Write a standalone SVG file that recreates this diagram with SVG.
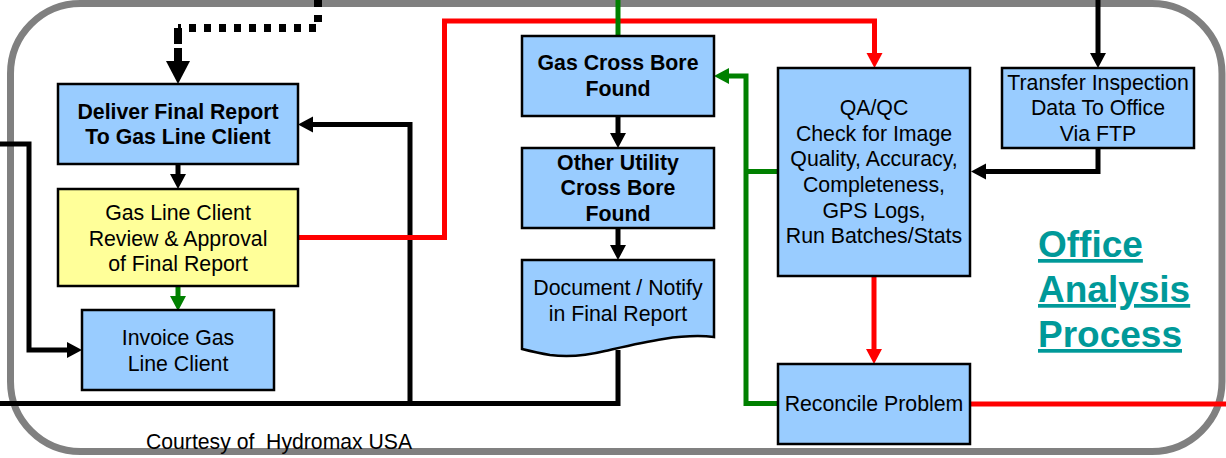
<svg xmlns="http://www.w3.org/2000/svg" width="1226" height="458" viewBox="0 0 1226 458">
<style>
.box{fill:#99CCFF;stroke:#000;stroke-width:2.5}
.yel{fill:#FFFF99;stroke:#000;stroke-width:2.5}
.t{font-family:"Liberation Sans",Arial,sans-serif;font-size:21.3px;fill:#000;text-anchor:middle}
.b{font-weight:bold}
.k{fill:none;stroke:#000;stroke-width:5}
.r{fill:none;stroke:#FF0000;stroke-width:5}
.g{fill:none;stroke:#008000;stroke-width:5}
.title{font-family:"Liberation Sans",Arial,sans-serif;font-size:37px;font-weight:bold;fill:#009999;text-decoration:underline}
</style>
<defs>
<marker id="ak" markerUnits="userSpaceOnUse" markerWidth="16" markerHeight="16" refX="0" refY="8" orient="auto" overflow="visible"><path d="M0,0 L15,8 L0,16 Z" fill="#000"/></marker>
<marker id="ar" markerUnits="userSpaceOnUse" markerWidth="16" markerHeight="16" refX="0" refY="8" orient="auto" overflow="visible"><path d="M0,0 L15,8 L0,16 Z" fill="#FF0000"/></marker>
<marker id="ag" markerUnits="userSpaceOnUse" markerWidth="16" markerHeight="16" refX="0" refY="8" orient="auto" overflow="visible"><path d="M0,0 L15,8 L0,16 Z" fill="#008000"/></marker>
<marker id="akb" markerUnits="userSpaceOnUse" markerWidth="24" markerHeight="24" refX="0" refY="12" orient="auto" overflow="visible"><path d="M0,0 L23,12 L0,24 Z" fill="#000"/></marker>
</defs>
<rect width="1226" height="458" fill="#fff"/>
<rect id="frame" x="10.5" y="3.5" width="1211.5" height="448" rx="70" ry="70" fill="none" stroke="#808080" stroke-width="7"/>

<g id="connectors">
<path d="M318,0 V28 H178" fill="none" stroke="#000" stroke-width="8" stroke-dasharray="7 8"/>
<path d="M178,28 V61" fill="none" stroke="#000" stroke-width="8" stroke-dasharray="16 4" marker-end="url(#akb)"/>
<path class="k" d="M178,164 V174" marker-end="url(#ak)"/>
<path class="g" d="M178,286 V296" marker-end="url(#ag)"/>
<path class="k" d="M0,144 H29 V350 H67" marker-end="url(#ak)"/>
<path class="k" d="M0,403.5 H618 V350"/>
<path class="k" d="M410,403.5 V124.5 H313" marker-end="url(#ak)"/>
<path class="r" d="M298,237.5 H444.5 V21 H874.5 V53" marker-end="url(#ar)"/>
<path class="g" d="M618,0 V36"/>
<path class="k" d="M618,116 V133" marker-end="url(#ak)"/>
<path class="k" d="M618,228 V245" marker-end="url(#ak)"/>
<path class="g" d="M778,403.5 H746 V76 H729" marker-end="url(#ag)"/>
<path class="g" d="M778,171.5 H746"/>
<path class="r" d="M874,276 V349" marker-end="url(#ar)"/>
<path class="r" d="M970,404 H1226"/>
<path class="k" d="M1098,0 V53" marker-end="url(#ak)"/>
<path class="k" d="M1098,148 V171.5 H986" marker-end="url(#ak)"/>
</g>

<g id="deliver">
<rect class="box" x="58" y="84" width="240" height="80"/>
<text class="t b" x="178" y="118.5">Deliver Final Report</text>
<text class="t b" x="178" y="144">To Gas Line Client</text>
</g>
<g id="review">
<rect class="yel" x="58" y="189" width="240" height="97"/>
<text class="t" x="178" y="220">Gas Line Client</text>
<text class="t" x="178" y="245.5">Review &amp; Approval</text>
<text class="t" x="178" y="271">of Final Report</text>
</g>
<g id="invoice">
<rect class="box" x="82" y="310" width="192" height="80"/>
<text class="t" x="178" y="345">Invoice Gas</text>
<text class="t" x="178" y="370.5">Line Client</text>
</g>
<g id="gascross">
<rect class="box" x="522" y="36" width="192" height="80"/>
<text class="t b" x="618" y="70">Gas Cross Bore</text>
<text class="t b" x="618" y="96">Found</text>
</g>
<g id="otherutility">
<rect class="box" x="522" y="148" width="192" height="80"/>
<text class="t b" x="618" y="169.5">Other Utility</text>
<text class="t b" x="618" y="195">Cross Bore</text>
<text class="t b" x="618" y="220.5">Found</text>
</g>
<g id="document">
<path class="box" d="M522,260 H714 V337 C680,333 640,343 605,351 C585,356 565,357 550,355 C538,353 530,351 522,349 Z"/>
<text class="t" x="618" y="295">Document / Notify</text>
<text class="t" x="618" y="320.5">in Final Report</text>
</g>
<g id="qaqc">
<rect class="box" x="778" y="68" width="192" height="208"/>
<text class="t" x="874" y="115">QA/QC</text>
<text class="t" x="874" y="140.5">Check for Image</text>
<text class="t" x="874" y="166">Quality, Accuracy,</text>
<text class="t" x="874" y="192">Completeness,</text>
<text class="t" x="874" y="217.5">GPS Logs,</text>
<text class="t" x="874" y="243">Run Batches/Stats</text>
</g>
<g id="transfer">
<rect class="box" x="1002" y="68" width="192" height="80"/>
<text class="t" x="1098" y="89.5">Transfer Inspection</text>
<text class="t" x="1098" y="115">Data To Office</text>
<text class="t" x="1098" y="140.5">Via FTP</text>
</g>
<g id="reconcile">
<rect class="box" x="778" y="364" width="192" height="80"/>
<text class="t" x="874" y="411">Reconcile Problem</text>
</g>
<g id="title">
<text class="title" x="1038" y="257">Office</text>
<text class="title" x="1038" y="302">Analysis</text>
<text class="title" x="1038" y="347">Process</text>
</g>
<text x="146" y="449" font-family="'Liberation Sans',Arial,sans-serif" font-size="21.2" fill="#000" xml:space="preserve">Courtesy of  Hydromax USA</text>
</svg>
